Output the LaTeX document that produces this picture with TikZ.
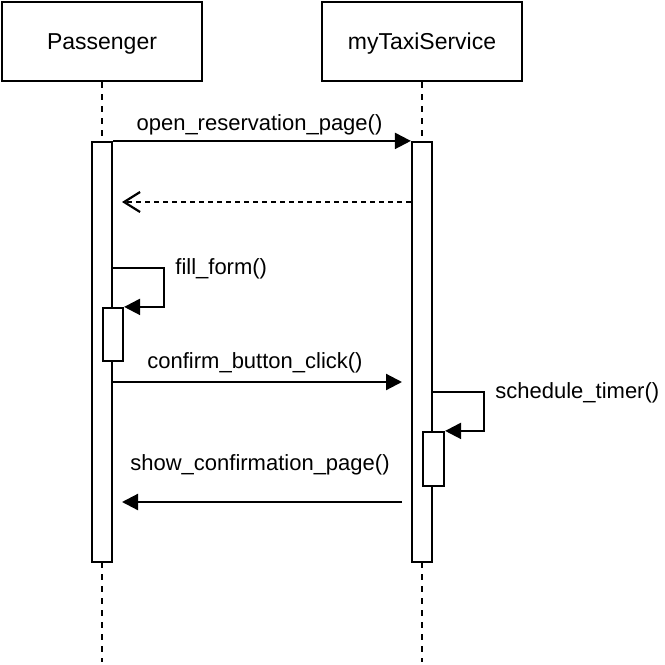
\documentclass[tikz,border=0pt]{standalone}
\usepackage{fontspec}
\setmainfont{Liberation Sans}
\usetikzlibrary{arrows.meta}
\begin{document}
\begin{tikzpicture}[x=0.5pt,y=-0.5pt,
  part/.style={draw, line width=1.1pt, fill=white, minimum width=100pt, minimum height=39.5pt, inner sep=0pt, text depth=0pt, font=\fontsize{11.5}{14}\selectfont},
  act/.style={draw, line width=1.1pt, fill=white, minimum width=10pt, inner sep=0pt},
  lifeline/.style={line width=1.1pt, dash pattern=on 3pt off 3pt},
  msg/.style={line width=1.1pt, -{Triangle[length=8pt,width=8pt]}},
  ret/.style={line width=1.1pt, dash pattern=on 2.5pt off 2pt, -{Straight Barb[length=8pt,width=10pt,line width=1.1pt]}},
  lbl/.style={inner sep=0pt, font=\fontsize{11}{13}\selectfont}
]
\useasboundingbox (0,0) rectangle (665,665);
% participants
\node[part] (pass) at (102,41.5) {Passenger};
\node[part] (taxi) at (422,41.5) {myTaxiService};
\coordinate (passend) at (102,662);
\coordinate (taxiend) at (422,662);
\draw[lifeline] (pass.south) -- (passend);
\draw[lifeline] (taxi.south) -- (taxiend);
% activations
\node[act, minimum height=210pt] (passact) at (102,352) {};
\node[act, minimum height=210pt] (taxiact) at (422,352) {};
\node[act, minimum height=26.5pt] (sact1) at (113,334.5) {};
\node[act, minimum width=10.5pt, minimum height=27pt] (sact2) at (433.5,459) {};
% message 1
\draw[msg] (passact.north east) -- (taxiact.north west);
\node[lbl] (l1) at (259.5,125) {open\_reservation\_page()};
% return
\coordinate (r1end) at (122,202);
\draw[ret] (taxiact.west |- r1end) -- (r1end);
% fill_form self call
\coordinate (ff1) at (164,268);
\draw[msg] (passact.east |- ff1) -- (ff1) -- (ff1 |- sact1.north) -- (sact1.north east);
\node[lbl, anchor=west] (l2) at (175,269) {fill\_form()};
% confirm
\coordinate (cbend) at (402,382);
\draw[msg] (passact.east |- cbend) -- (cbend);
\node[lbl] (l3) at (255,362.5) {confirm\_button\_click()};
% schedule_timer self call
\coordinate (st1) at (484,392);
\draw[msg] (taxiact.east |- st1) -- (st1) -- (st1 |- sact2.north) -- (sact2.north east);
\node[lbl, anchor=west] (l4) at (495,393) {schedule\_timer()};
% show confirmation
\coordinate (scstart) at (402,502);
\coordinate (scend) at (122,502);
\draw[msg] (scstart) -- (scend);
\node[lbl] (l5) at (260,464.5) {show\_confirmation\_page()};
\end{tikzpicture}
\end{document}
